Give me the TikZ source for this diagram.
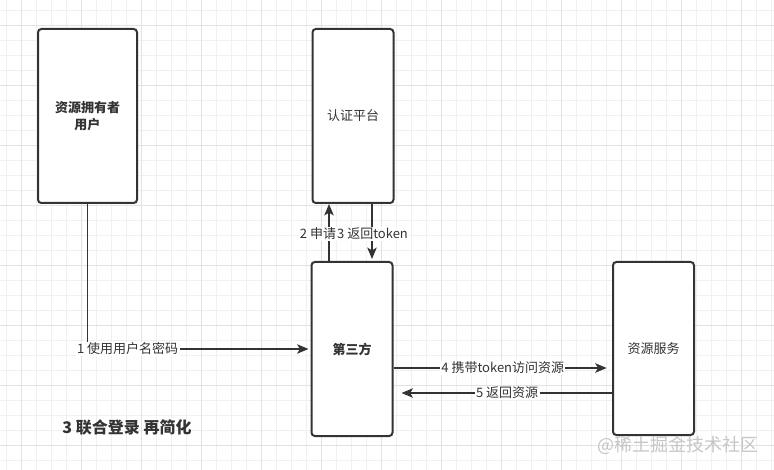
\documentclass[tikz,border=0pt]{standalone}
\usepackage{fontspec}
\setmainfont{Noto Sans CJK SC}
\usetikzlibrary{arrows.meta}
\definecolor{linec}{HTML}{333333}
\definecolor{txtc}{HTML}{333333}
\definecolor{gridl}{HTML}{F0F0F0}
\definecolor{gridd}{HTML}{E2E2E2}
\tikzset{
  box/.style={draw=linec, line width=1.5pt, rounded corners=2.5pt, fill=white, inner sep=0pt, text=txtc, align=center, font=\fontsize{9.75pt}{13pt}\selectfont},
  conn/.style={draw=linec, line width=1.3pt, -{Stealth[length=8.5pt,width=7pt,inset=2pt]}},
  lbl/.style={fill=white, inner sep=1pt, text=txtc, font=\fontsize{9.75pt}{12pt}\selectfont},
}
\begin{document}
\begin{tikzpicture}[x=0.75pt,y=-0.75pt]
\useasboundingbox (0,0) rectangle (774,470);
\fill[white] (0,0) rectangle (774,470);
% grid
\foreach \i in {0,...,51} {\draw[gridl, line width=0.6pt] ({6.7+15*\i},0) -- ({6.7+15*\i},470);}
\foreach \i in {0,...,31} {\draw[gridl, line width=0.6pt] (0,{10+15*\i}) -- (774,{10+15*\i});}
\foreach \i in {0,...,12} {\draw[gridd, line width=0.6pt] ({21.7+60*\i},0) -- ({21.7+60*\i},470);}
\foreach \i in {0,...,7} {\draw[gridd, line width=0.6pt] (0,{25+60*\i}) -- (774,{25+60*\i});}

% boxes
\node[box, minimum width=74.25pt, minimum height=130.5pt] (A) at (87.5,116) {\bfseries 资源拥有者\\\bfseries 用户};
\node[box, minimum width=60.75pt, minimum height=130.5pt] (B) at (353,116) {认证平台};
\node[box, minimum width=60.75pt, minimum height=130.5pt] (C) at (352,349) {\bfseries 第三方};
\node[box, minimum width=60.75pt, minimum height=129.75pt] (D) at (653.5,348.5) {资源服务};

% connectors
\draw[conn, shorten >=1.5pt] (A.south) |- (C.west) node[lbl, pos=0.59] (l1) {1 使用用户名密码};
\draw[conn] ([xshift=-17.25pt]C.north) -- ([xshift=-17.25pt]C.north |- B.south);
\draw[conn, shorten >=1.5pt] ([xshift=15pt]C.north |- B.south) -- ([xshift=15pt]C.north);
\node[lbl] (l2) at (318,234) {2 申请};
\node[lbl] (l3) at (372.5,234) {3 返回token};
\draw[conn, shorten >=4pt] ([yshift=-14.25pt]C.east) -- ([yshift=-14.25pt]C.east -| D.west) node[lbl, midway] (l4) {4 携带token访问资源};
\draw[conn, shorten >=6pt] ([yshift=-33pt]C.east -| D.west) -- ([yshift=-33pt]C.east) node[lbl, pos=0.48] (l5) {5 返回资源};

% title & watermark
\node[text=txtc, font=\fontsize{12pt}{14pt}\selectfont\bfseries] (title) at (127,427.5) {3 联合登录 再简化};
\node[text=gray!45, font=\fontsize{13.5pt}{15pt}\selectfont] (wm) at (678,445) {@稀土掘金技术社区};
\end{tikzpicture}
\end{document}
